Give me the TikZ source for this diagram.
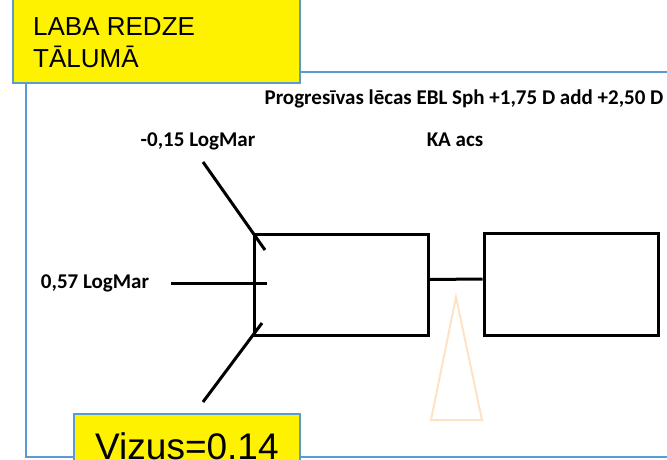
\documentclass[tikz,border=0pt]{standalone}
\usepackage{fontspec}
\setmainfont{Liberation Sans}
\newfontfamily\calib{Carlito}
\definecolor{frameblue}{HTML}{5B9BD5}
\definecolor{peach}{HTML}{FFE2C6}
\tikzset{
  lbl/.style={font=\calib\bfseries\fontsize{21}{24}\selectfont, inner sep=0pt},
  boxline/.style={draw=black, line width=3pt},
  blk/.style={draw=black, line width=3pt},
  ybox/.style={fill=yellow, draw=frameblue, line width=2pt},
}
\begin{document}
\begin{tikzpicture}[x=1pt,y=-1pt]
\useasboundingbox (0,0) rectangle (667,460);
\clip (0,0) rectangle (667,460);
% outer frame
\draw[frameblue, line width=2pt] (26,72) rectangle (690,457);
% top yellow box
\draw[ybox] (13,-10) rectangle (300,83);
\node[anchor=north west, inner sep=0pt, align=left, font=\fontsize{26}{32}\selectfont] (t1) at (33,17) {LABA REDZE\\TĀLUMĀ};
% bottom yellow box
\draw[ybox] (74,414) rectangle (300,480);
\node[anchor=base west, inner sep=0pt, font=\fontsize{37}{40}\selectfont] (t2) at (95,459) {Vizus=0.14};
% title
\node[lbl] (title) at (464,99) {Progresīvas lēcas EBL Sph +1,75 D add +2,50 D};
\node[lbl] (ka) at (455,140) {KA acs};
% rectangles
\node[boxline, minimum width=174pt, minimum height=101pt, inner sep=0pt] (L) at (341,284.5) {};
\node[boxline, minimum width=174pt, minimum height=102pt, inner sep=0pt] (R) at (571,284) {};
\draw[blk] ([yshift=5pt]L.east) -- ([yshift=5pt]R.west);
% labels
\node[lbl] (m15) at (198,141) {-0,15 LogMar};
\node[lbl] (m57) at (95,283) {0,57 LogMar};
\coordinate (a1) at (203,162);
\coordinate (a2) at (265,250);
\coordinate (b1) at (171,283);
\coordinate (b2) at (267,283);
\coordinate (c1) at (203,402);
\coordinate (c2) at (262,323);
\draw[blk] (a1) -- (a2);
\draw[blk] (b1) -- (b2);
\draw[blk] (c1) -- (c2);
% triangle
\draw[peach, line width=2pt, line join=miter] (456,297) -- (482,420) -- (431,420) -- cycle;
\end{tikzpicture}
\end{document}
